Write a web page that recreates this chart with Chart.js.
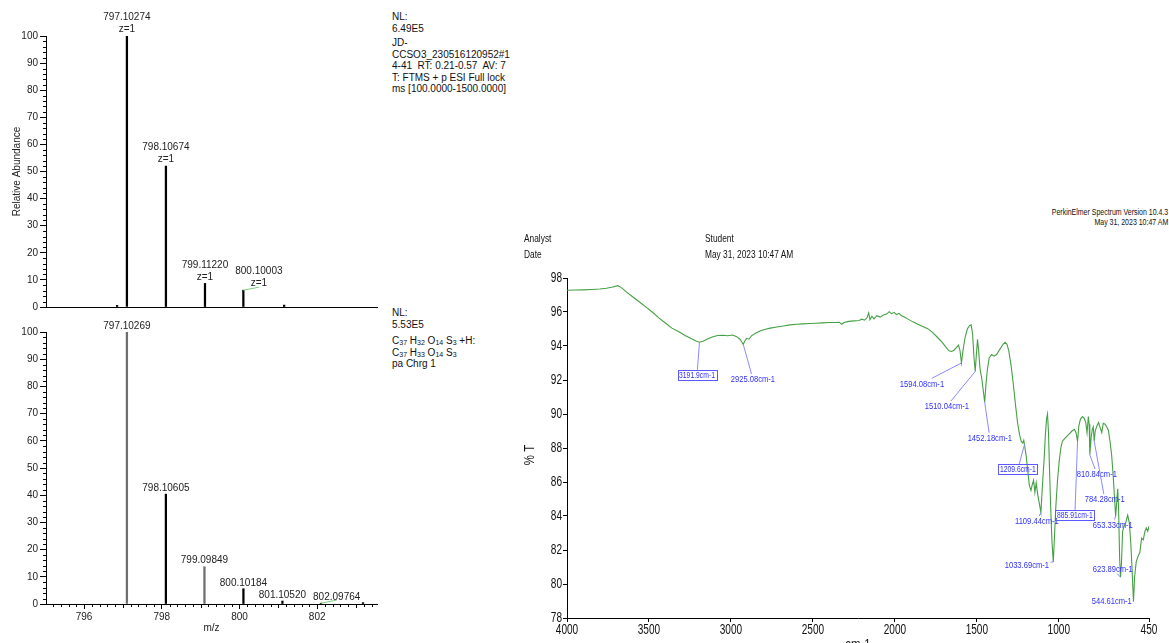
<!DOCTYPE html>
<html>
<head>
<meta charset="utf-8">
<title>Mass spectrum and FT-IR spectrum</title>
<script src="https://cdn.jsdelivr.net/npm/chart.js@4.4.1/dist/chart.umd.min.js"></script>
<style>
  html, body { margin: 0; padding: 0; background: #fff; overflow: hidden; }
  #page { position: relative; width: 1169px; height: 643px; overflow: hidden; background: #fff; }
  #page canvas { position: absolute; }
  .info { position: absolute; font-family: 'Liberation Sans', Arial, sans-serif; font-size: 10px; line-height: 11.5px; color: #111; white-space: nowrap; }
  .info sub { font-size: 7px; vertical-align: -1px; line-height: 0; }
  /* instrument header: Arial-style face squeezed to a narrow width */
  .irtxt { position: absolute; font-family: 'Liberation Sans', Arial, sans-serif; color: #111; white-space: nowrap; transform: scaleX(0.76); }
  .irtxt.left { transform-origin: 0 0; }
  .irtxt.right { transform-origin: 100% 0; text-align: right; }
</style>
</head>
<body>
<div id="page">
  <canvas id="msTop" width="380" height="315" style="left:0;top:0"></canvas>
  <canvas id="msBottom" width="380" height="333" style="left:0;top:310px"></canvas>
  <canvas id="irChart" width="669" height="400" style="left:500px;top:260px"></canvas>

  <div class="info" style="left:392px;top:11px">NL:<br>6.49E5</div>
  <div class="info" style="left:392px;top:37px">JD-<br>CCSO3_230516120952#1<br>4-41&nbsp; RT: 0.21-0.57&nbsp; AV: 7<br>T: FTMS + p ESI Full lock<br>ms [100.0000-1500.0000]</div>

  <div class="info" style="left:392px;top:307px">NL:<br>5.53E5</div>
  <div class="info" style="left:392px;top:335px">C<sub>37</sub> H<sub>32</sub> O<sub>14</sub> S<sub>3</sub> +H:<br>C<sub>37</sub> H<sub>33</sub> O<sub>14</sub> S<sub>3</sub><br>pa Chrg 1</div>

  <div class="irtxt right" style="right:1px;top:208px;font-size:9.2px;line-height:9.8px">PerkinElmer Spectrum Version 10.4.3<br>May 31, 2023 10:47 AM</div>
  <div class="irtxt left" style="left:524px;top:230px;font-size:11px;line-height:16px">Analyst<br>Date</div>
  <div class="irtxt left" style="left:705px;top:230px;font-size:11px;line-height:16px">Student<br>May 31, 2023 10:47 AM</div>
</div>

<script>
// ---------- Mass spectra (relative abundance vs m/z) ----------
const mzTicks = [796, 798, 800, 802];

// Measured spectrum, labelled isotope peaks
const measuredMz = [797.10274, 798.10674, 799.11220, 800.10003];
const measuredAbundance = [100, 52, 8.7, 6.2];
// Measured spectrum, small unlabelled peaks
const measuredMinorMz = [796.85, 801.15];
const measuredMinorAbundance = [0.6, 0.7];

// Simulated isotope pattern for C37 H33 O14 S3
const simulatedMz = [797.10269, 798.10605, 799.09849, 800.10184, 801.10520, 802.09764];
const simulatedAbundance = [100, 40.4, 13.7, 5.6, 1.1, 0.3];
const simulatedMinorMz = [803.18];
const simulatedMinorAbundance = [0.5];

// ---------- FT-IR spectrum (%T vs wavenumber) ----------
const irXTicks = [4000, 3500, 3000, 2500, 2000, 1500, 1000, 450];
const irWavenumber = [
  4000, 3950, 3900, 3850, 3800, 3760, 3720, 3690, 3670, 3640, 3600, 3560, 3520, 3480, 3440, 3400,
  3360, 3320, 3280, 3240, 3210, 3192, 3170, 3140, 3110, 3080, 3050, 3020, 2990, 2965, 2945, 2935,
  2925, 2915, 2905, 2890, 2875, 2850, 2820, 2790, 2760, 2720, 2680, 2640, 2600, 2560, 2520, 2480,
  2440, 2400, 2360, 2340, 2325, 2310, 2280, 2250, 2220, 2200, 2185, 2170, 2160, 2152, 2140, 2128,
  2110, 2090, 2070, 2050, 2035, 2020, 2005, 1990, 1975, 1960, 1945, 1920, 1890, 1860, 1830, 1800,
  1770, 1740, 1710, 1690, 1670, 1655, 1640, 1625, 1612, 1603, 1594.08, 1585, 1572, 1558, 1545, 1535,
  1526, 1518, 1510.04, 1503, 1496, 1489, 1480, 1470, 1460, 1452.18, 1445, 1436, 1425, 1410, 1395, 1380,
  1360, 1340, 1328, 1316, 1305, 1292, 1278, 1265, 1252, 1240, 1230, 1220, 1214, 1209.6, 1200, 1190,
  1180, 1170, 1162, 1154, 1146, 1138, 1128, 1120, 1109.44, 1100, 1090, 1082, 1075, 1069, 1063, 1057,
  1050, 1042, 1033.69, 1026, 1018, 1008, 998, 988, 978, 965, 950, 935, 920, 905, 895, 885.91,
  878, 868, 856, 845, 836, 828, 820, 815, 810.84, 803, 796, 790, 784.28, 778, 768, 758,
  748, 738, 729, 718, 708, 698, 688, 678, 668, 660, 653.33, 647, 641, 636, 629, 623.89,
  618, 611, 602, 592, 580, 570, 561, 553, 544.61, 538, 528, 518, 506, 495, 485, 475,
  466, 458, 450
];
const irTransmittance = [
  97.28, 97.29, 97.30, 97.32, 97.35, 97.40, 97.47, 97.55, 97.45, 97.20, 96.90, 96.60, 96.30, 96.00, 95.65, 95.35,
  95.05, 94.85, 94.62, 94.42, 94.28, 94.22, 94.28, 94.42, 94.55, 94.62, 94.63, 94.60, 94.65, 94.55, 94.40, 94.25,
  94.10, 94.30, 94.45, 94.40, 94.60, 94.75, 94.90, 94.98, 95.05, 95.12, 95.18, 95.24, 95.28, 95.30, 95.32, 95.34,
  95.36, 95.38, 95.38, 95.40, 95.28, 95.38, 95.45, 95.48, 95.50, 95.58, 95.52, 95.66, 95.95, 95.55, 95.75, 95.60,
  95.78, 95.70, 95.82, 95.88, 96.02, 95.90, 95.98, 95.85, 95.92, 95.78, 95.72, 95.58, 95.42, 95.28, 95.15, 95.02,
  94.80, 94.50, 94.20, 93.95, 93.72, 93.68, 93.75, 93.90, 94.05, 93.75, 93.00, 93.70, 94.50, 95.00, 95.20, 95.25,
  94.70, 93.40, 92.50, 93.50, 94.40, 93.70, 92.60, 92.10, 91.30, 90.70, 91.70, 92.60, 93.30, 93.50, 93.40, 93.50,
  93.80, 94.10, 94.22, 94.10, 93.70, 92.90, 91.80, 90.60, 89.50, 88.80, 88.40, 88.30, 88.45, 88.20, 87.60, 86.70,
  85.80, 85.50, 85.85, 86.10, 85.40, 85.95, 85.20, 84.80, 84.20, 85.80, 87.30, 88.80, 89.70, 90.00, 88.90, 86.80,
  84.60, 82.50, 81.30, 82.90, 84.60, 86.10, 87.20, 88.00, 88.40, 88.55, 88.70, 88.85, 89.00, 89.10, 88.90, 88.40,
  89.30, 89.70, 89.85, 89.75, 89.50, 88.90, 89.85, 89.40, 87.60, 88.60, 89.10, 89.25, 88.40, 89.00, 89.30, 89.50,
  89.20, 88.90, 89.45, 89.40, 89.25, 89.05, 88.40, 87.60, 86.30, 85.00, 84.00, 84.80, 85.60, 84.60, 81.50, 80.40,
  81.20, 83.10, 83.40, 83.60, 84.05, 83.60, 82.40, 80.80, 78.96, 80.40, 81.30, 81.60, 81.85, 82.70, 82.60, 83.10,
  83.30, 83.10, 83.40
];

// Peak picks: band position, %T at the band, and where its tag sits
const irPeakWn = [3191.9, 2925.08, 1594.08, 1510.04, 1452.18, 1209.6, 1109.44, 1033.69, 885.91, 810.84, 784.28, 653.33, 623.89, 544.61];
const irPeakT = [94.22, 94.10, 93.00, 92.50, 90.70, 88.20, 84.20, 81.30, 88.40, 87.60, 88.40, 84.00, 80.40, 78.96];
const irTagWn = [3207, 2866, 1835, 1683, 1421, 1250, 1134, 1195, 902, 768, 720, 671, 671, 677];
const irTagT = [92.3, 92.06, 91.8, 90.47, 88.6, 86.76, 83.7, 81.1, 84.06, 86.47, 85.0, 83.5, 80.9, 79.0];
const irBoxedTags = [3191.9, 1209.6, 885.91];

// ---------- shared drawing helpers ----------
const MS_FONT = "'Liberation Sans', Arial, sans-serif";
const NARROW = 0.8;   // horizontal squeeze for the spectrometer's narrow lettering

function narrowText(ctx, text, x, y, align, baseline, squeeze) {
  ctx.save();
  ctx.translate(x, y);
  ctx.scale(squeeze || NARROW, 1);
  ctx.textAlign = align;
  ctx.textBaseline = baseline;
  ctx.fillText(text, 0, 0);
  ctx.restore();
}

// Short minor ticks on the mass-spectrum axes
const msMinorTicks = {
  id: 'msMinorTicks',
  afterDraw(chart, args, opts) {
    const { ctx, scales: { x, y } } = chart;
    ctx.save();
    ctx.strokeStyle = '#000';
    ctx.lineWidth = 1;
    ctx.beginPath();
    for (let v = 0; v <= 100; v += 2) {
      if (v % 10 === 0) continue;
      const py = Math.round(y.getPixelForValue(v)) + 0.5;
      ctx.moveTo(y.right - 3, py);
      ctx.lineTo(y.right, py);
    }
    if (opts.xMinor) {
      for (let k = Math.ceil(x.min * 5); k <= Math.floor(x.max * 5); k++) {
        if (k % 10 === 0) continue;
        const px = Math.round(x.getPixelForValue(k / 5)) + 0.5;
        ctx.moveTo(px, x.top);
        ctx.lineTo(px, x.top + (k % 5 === 0 ? 4 : 3));
      }
    }
    ctx.stroke();
    ctx.restore();
  }
};

// m/z tags above the labelled peaks; a tag that would collide is pushed right with a leader
const msPeakLabels = {
  id: 'msPeakLabels',
  afterDatasetsDraw(chart, args, opts) {
    const { ctx, scales: { x, y } } = chart;
    ctx.save();
    ctx.font = '10px ' + MS_FONT;
    ctx.textAlign = 'center';
    ctx.textBaseline = 'middle';
    const lh = 12;
    const placed = [];
    opts.mz.forEach((m, i) => {
      const lines = [m.toFixed(5)];
      if (opts.charge) lines.push('z=' + opts.charge);
      const px = x.getPixelForValue(m);
      const py = y.getPixelForValue(opts.ab[i]);
      const w = Math.max(...lines.map(t => ctx.measureText(t).width));
      const lastY = py - opts.gap;
      const box = { l: px - w / 2, r: px + w / 2, t: lastY - (lines.length - 1) * lh - 5, b: lastY + 5 };
      let cx = px;
      placed.forEach(p => {
        if (box.l < p.r && box.r > p.l && box.t < p.b && box.b > p.t) {
          const s = p.r + 7 - box.l;
          cx += s; box.l += s; box.r += s;
        }
      });
      placed.push(box);
      if (cx !== px) {
        ctx.strokeStyle = '#7fd07f';
        ctx.lineWidth = 1;
        ctx.beginPath();
        ctx.moveTo(px, py);
        ctx.lineTo(cx, py - 3);
        ctx.stroke();
      }
      ctx.fillStyle = '#222';
      lines.forEach((t, k) => ctx.fillText(t, cx, lastY - (lines.length - 1 - k) * lh));
    });
    ctx.restore();
  }
};

function buildMassSpectrum(canvasId, o) {
  const mz = o.mz.concat(o.minorMz);
  const ab = o.ab.concat(o.minorAb);
  const colours = o.mz.map((m, i) => o.shade[i]).concat(o.minorMz.map(() => '#000'));
  return new Chart(document.getElementById(canvasId), {
    type: 'bar',
    data: {
      datasets: [{
        data: mz.map((m, i) => ({ x: m, y: ab[i] })),
        backgroundColor: colours,
        borderWidth: 0,
        barThickness: 1.6,
        grouped: false
      }]
    },
    options: {
      responsive: false,
      animation: false,
      events: [],
      layout: { padding: { top: o.padTop, right: 3, left: 0, bottom: 0 } },
      plugins: {
        legend: { display: false },
        tooltip: { enabled: false },
        msMinorTicks: { xMinor: o.showX },
        msPeakLabels: { mz: o.mz, ab: o.ab, charge: o.charge, gap: o.gap }
      },
      scales: {
        x: {
          type: 'linear',
          min: 795.02,
          max: 803.54,
          offset: false,
          grid: { display: o.showX, drawOnChartArea: false, offset: false, tickLength: 5, color: '#000' },
          border: { display: true, color: '#000', width: 1 },
          ticks: { display: o.showX, font: { family: MS_FONT, size: 10 }, color: '#222', padding: 2, maxRotation: 0, autoSkip: false, callback: v => String(v) },
          title: { display: o.showX, text: 'm/z', font: { family: MS_FONT, size: 10 }, color: '#222', padding: { top: 0, bottom: 9 } },
          afterBuildTicks: s => { s.ticks = mzTicks.map(v => ({ value: v })); },
          afterFit: s => { s.height = o.xHeight; }
        },
        y: {
          min: 0,
          max: 100,
          grid: { drawOnChartArea: false, tickLength: 6, color: '#000' },
          border: { display: true, color: '#000', width: 1 },
          ticks: { stepSize: 10, font: { family: MS_FONT, size: 10 }, color: '#222', padding: 2 },
          title: { display: o.showYTitle, text: 'Relative Abundance', font: { family: MS_FONT, size: 10 }, color: '#222', padding: { top: 11, bottom: 0 } },
          afterFit: s => { s.width = 46; }
        }
      }
    },
    plugins: [msMinorTicks, msPeakLabels]
  });
}

buildMassSpectrum('msTop', {
  mz: measuredMz, ab: measuredAbundance,
  minorMz: measuredMinorMz, minorAb: measuredMinorAbundance,
  shade: ['#000', '#000', '#000', '#000'],
  charge: 1, gap: 6.5, padTop: 36, xHeight: 8, showX: false, showYTitle: true
});

buildMassSpectrum('msBottom', {
  mz: simulatedMz, ab: simulatedAbundance,
  minorMz: simulatedMinorMz, minorAb: simulatedMinorAbundance,
  shade: ['#6e6e6e', '#000', '#6e6e6e', '#000', '#000', '#000'],
  charge: 0, gap: 6, padTop: 22, xHeight: 39, showX: true, showYTitle: false
});

// Narrow tick labels and axis titles for the IR frame
const irAxisText = {
  id: 'irAxisText',
  afterDraw(chart) {
    const { ctx, scales: { x, y } } = chart;
    ctx.save();
    ctx.fillStyle = '#111';
    ctx.font = '14px ' + MS_FONT;
    y.ticks.forEach(t => narrowText(ctx, String(t.value), y.right - 5, y.getPixelForValue(t.value), 'right', 'middle', 0.72));
    x.ticks.forEach(t => narrowText(ctx, String(t.value), x.getPixelForValue(t.value), x.top + 5, 'center', 'top', 0.72));
    ctx.font = '15px ' + MS_FONT;
    narrowText(ctx, 'cm-1', (x.left + x.right) / 2, x.top + 19, 'center', 'top', 0.76);
    ctx.save();
    ctx.translate(y.left + 30, (y.top + y.bottom) / 2 + 7);
    ctx.rotate(-Math.PI / 2);
    narrowText(ctx, '% T', 0, 0, 'center', 'middle', 0.76);
    ctx.restore();
    ctx.restore();
  }
};

// Peak-pick tags for the IR trace
const irPeakTags = {
  id: 'irPeakTags',
  afterDatasetsDraw(chart) {
    const { ctx, scales: { x, y } } = chart;
    ctx.save();
    irPeakWn.forEach((wn, i) => {
      const text = wn + 'cm-1';
      const boxed = irBoxedTags.includes(wn);
      ctx.font = (boxed ? '8.5px ' : '9.5px ') + MS_FONT;
      const tx = x.getPixelForValue(wn), ty = y.getPixelForValue(irPeakT[i]);
      const cx = x.getPixelForValue(irTagWn[i]), cy = y.getPixelForValue(irTagT[i]);
      const w = ctx.measureText(text).width * NARROW;
      const hw = w / 2 + 1.5, hh = 5;
      // leader from the band to where it meets the tag's box
      const dx = cx - tx, dy = cy - ty;
      let t = 0;
      if (Math.abs(dx) > hw) t = Math.max(t, (Math.abs(dx) - hw) / Math.abs(dx));
      if (Math.abs(dy) > hh) t = Math.max(t, (Math.abs(dy) - hh) / Math.abs(dy));
      if (t > 0) {
        ctx.strokeStyle = '#8a8aff';
        ctx.lineWidth = 1;
        ctx.beginPath();
        ctx.moveTo(tx, ty);
        ctx.lineTo(tx + dx * t, ty + dy * t);
        ctx.stroke();
      }
      if (boxed) {
        ctx.strokeStyle = '#5a5aff';
        ctx.lineWidth = 1;
        ctx.strokeRect(Math.round(cx - hw) + 0.5, Math.round(cy - hh) + 0.5, Math.round(hw * 2), Math.round(hh * 2));
      }
      ctx.fillStyle = '#3030ff';
      narrowText(ctx, text, cx, cy + 0.5, 'center', 'middle');
    });
    ctx.restore();
  }
};

new Chart(document.getElementById('irChart'), {
  type: 'line',
  data: {
    datasets: [{
      data: irWavenumber.map((w, i) => ({ x: w, y: irTransmittance[i] })),
      borderColor: '#45a045',
      borderWidth: 1.1,
      pointRadius: 0,
      tension: 0,
      fill: false
    }]
  },
  options: {
    responsive: false,
    animation: false,
    events: [],
    layout: { padding: { top: 18, right: 20, left: 0, bottom: 0 } },
    plugins: { legend: { display: false }, tooltip: { enabled: false } },
    scales: {
      x: {
        type: 'linear',
        reverse: true,
        min: 450,
        max: 4000,
        grid: { drawOnChartArea: false, tickLength: 4, color: '#000' },
        border: { display: true, color: '#000', width: 1 },
        ticks: { display: false },
        afterBuildTicks: s => { s.ticks = irXTicks.map(v => ({ value: v })); },
        afterFit: s => { s.height = 42; }
      },
      y: {
        min: 78,
        max: 98,
        grid: { drawOnChartArea: false, tickLength: 4, color: '#000' },
        border: { display: true, color: '#000', width: 1 },
        ticks: { stepSize: 2, display: false },
        afterFit: s => { s.width = 67; }
      }
    }
  },
  plugins: [irPeakTags, irAxisText]
});
</script>
</body>
</html>
